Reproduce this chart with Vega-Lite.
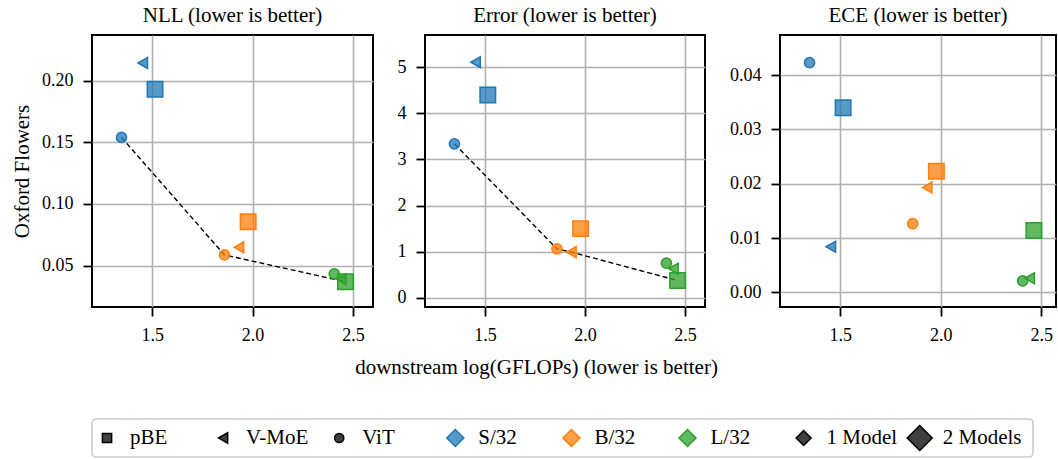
{
  "$schema": "https://vega.github.io/schema/vega-lite/v6.json",
  "background": "white",
  "padding": {"left": 10, "top": 4, "right": 0, "bottom": 0},
  "config": {
    "font": "Liberation Serif",
    "view": {"stroke": "black", "strokeWidth": 2},
    "axis": {
      "labelFont": "Liberation Serif", "labelFontSize": 18, "labelColor": "black",
      "titleFont": "Liberation Serif", "titleFontSize": 21, "titleFontWeight": "normal", "titleColor": "black",
      "tickColor": "black", "tickSize": 9, "tickWidth": 1.8, "labelPadding": 10,
      "domain": false, "gridColor": "#b0b0b0", "gridWidth": 1.6, "gridOpacity": 1
    },
    "axisY": {"titlePadding": 9},
    "title": {"font": "Liberation Serif", "fontSize": 21, "fontWeight": "normal", "color": "black", "offset": 9}
  },
  "resolve": {"scale": {"shape": "independent", "fill": "independent", "stroke": "independent"}},
  "datasets": {
    "points": [
      {"metric": "NLL", "method": "ViT", "model": "S/32", "gflops": 1.347, "value": 0.154, "front": true},
      {"metric": "NLL", "method": "ViT", "model": "B/32", "gflops": 1.860, "value": 0.0587, "front": true},
      {"metric": "NLL", "method": "ViT", "model": "L/32", "gflops": 2.407, "value": 0.0433, "front": false},
      {"metric": "NLL", "method": "V-MoE", "model": "S/32", "gflops": 1.453, "value": 0.2143, "front": false},
      {"metric": "NLL", "method": "V-MoE", "model": "B/32", "gflops": 1.932, "value": 0.0649, "front": false},
      {"metric": "NLL", "method": "V-MoE", "model": "L/32", "gflops": 2.442, "value": 0.039, "front": false},
      {"metric": "NLL", "method": "pBE", "model": "S/32", "gflops": 1.514, "value": 0.193, "front": false},
      {"metric": "NLL", "method": "pBE", "model": "B/32", "gflops": 1.978, "value": 0.0857, "front": false},
      {"metric": "NLL", "method": "pBE", "model": "L/32", "gflops": 2.463, "value": 0.037, "front": true},
      {"metric": "Error", "method": "ViT", "model": "S/32", "gflops": 1.347, "value": 3.34, "front": true},
      {"metric": "Error", "method": "ViT", "model": "B/32", "gflops": 1.860, "value": 1.06, "front": true},
      {"metric": "Error", "method": "ViT", "model": "L/32", "gflops": 2.407, "value": 0.75, "front": false},
      {"metric": "Error", "method": "V-MoE", "model": "S/32", "gflops": 1.453, "value": 5.11, "front": false},
      {"metric": "Error", "method": "V-MoE", "model": "B/32", "gflops": 1.932, "value": 0.99, "front": true},
      {"metric": "Error", "method": "V-MoE", "model": "L/32", "gflops": 2.442, "value": 0.63, "front": false},
      {"metric": "Error", "method": "pBE", "model": "S/32", "gflops": 1.514, "value": 4.40, "front": false},
      {"metric": "Error", "method": "pBE", "model": "B/32", "gflops": 1.978, "value": 1.50, "front": false},
      {"metric": "Error", "method": "pBE", "model": "L/32", "gflops": 2.463, "value": 0.375, "front": true},
      {"metric": "ECE", "method": "ViT", "model": "S/32", "gflops": 1.347, "value": 0.0423, "front": false},
      {"metric": "ECE", "method": "ViT", "model": "B/32", "gflops": 1.860, "value": 0.01265, "front": false},
      {"metric": "ECE", "method": "ViT", "model": "L/32", "gflops": 2.407, "value": 0.0021, "front": false},
      {"metric": "ECE", "method": "V-MoE", "model": "S/32", "gflops": 1.453, "value": 0.0084, "front": false},
      {"metric": "ECE", "method": "V-MoE", "model": "B/32", "gflops": 1.932, "value": 0.0193, "front": false},
      {"metric": "ECE", "method": "V-MoE", "model": "L/32", "gflops": 2.442, "value": 0.0026, "front": false},
      {"metric": "ECE", "method": "pBE", "model": "S/32", "gflops": 1.514, "value": 0.0340, "front": false},
      {"metric": "ECE", "method": "pBE", "model": "B/32", "gflops": 1.978, "value": 0.0223, "front": false},
      {"metric": "ECE", "method": "pBE", "model": "L/32", "gflops": 2.463, "value": 0.0114, "front": false}
    ],
    "legend": [
      {"item": "pBE"}, {"item": "V-MoE"}, {"item": "ViT"}, {"item": "S/32"},
      {"item": "B/32"}, {"item": "L/32"}, {"item": "1 Model"}, {"item": "2 Models"}
    ]
  },
  "vconcat": [
    {
      "spacing": 22,
      "resolve": {"scale": {"shape": "shared", "fill": "shared", "stroke": "shared"}},
      "hconcat": [
        {
          "width": 281, "height": 272,
          "title": "NLL (lower is better)",
          "data": {"name": "points"},
          "transform": [{"filter": "datum.metric === 'NLL'"}],
          "encoding": {
            "x": {"field": "gflops", "type": "quantitative", "scale": {"domain": [1.2, 2.6], "nice": false, "zero": false}, "axis": {"values": [1.5, 2.0, 2.5], "format": ".1f", "title": null}},
            "y": {"field": "value", "type": "quantitative", "scale": {"domain": [0.0165, 0.237], "nice": false, "zero": false}, "axis": {"values": [0.05, 0.1, 0.15, 0.2], "format": ".2f", "title": "Oxford Flowers"}}
          },
          "layer": [
            {"transform": [{"filter": "datum.front"}], "mark": {"type": "line", "color": "black", "strokeDash": [5, 3], "strokeWidth": 1.4}, "encoding": {"order": {"field": "gflops"}}},
            {"mark": {"type": "point", "filled": true, "fillOpacity": 0.75, "strokeWidth": 1.5, "opacity": 1},
             "encoding": {
               "shape": {"field": "method", "scale": {"domain": ["pBE", "V-MoE", "ViT"], "range": ["square", "triangle-left", "circle"]}, "legend": null},
               "size": {"condition": [{"test": "datum.method === 'pBE'", "value": 240}, {"test": "datum.method === 'V-MoE'", "value": 120}], "value": 104},
               "fill": {"field": "model", "scale": {"domain": ["S/32", "B/32", "L/32"], "range": ["#1f77b4", "#ff7f0e", "#2ca02c"]}, "legend": null},
               "stroke": {"field": "model", "scale": {"domain": ["S/32", "B/32", "L/32"], "range": ["#1f77b4", "#ff7f0e", "#2ca02c"]}, "legend": null}
             }}
          ]
        },
        {
          "width": 280, "height": 272,
          "title": "Error (lower is better)",
          "data": {"name": "points"},
          "transform": [{"filter": "datum.metric === 'Error'"}],
          "encoding": {
            "x": {"field": "gflops", "type": "quantitative", "scale": {"domain": [1.2, 2.6], "nice": false, "zero": false}, "axis": {"values": [1.5, 2.0, 2.5], "format": ".1f", "title": null}},
            "y": {"field": "value", "type": "quantitative", "scale": {"domain": [-0.2, 5.7], "nice": false, "zero": false}, "axis": {"values": [0, 1, 2, 3, 4, 5], "format": "d", "title": null}}
          },
          "layer": [
            {"transform": [{"filter": "datum.front"}], "mark": {"type": "line", "color": "black", "strokeDash": [5, 3], "strokeWidth": 1.4}, "encoding": {"order": {"field": "gflops"}}},
            {"mark": {"type": "point", "filled": true, "fillOpacity": 0.75, "strokeWidth": 1.5, "opacity": 1},
             "encoding": {
               "shape": {"field": "method", "scale": {"domain": ["pBE", "V-MoE", "ViT"], "range": ["square", "triangle-left", "circle"]}, "legend": null},
               "size": {"condition": [{"test": "datum.method === 'pBE'", "value": 240}, {"test": "datum.method === 'V-MoE'", "value": 120}], "value": 104},
               "fill": {"field": "model", "scale": {"domain": ["S/32", "B/32", "L/32"], "range": ["#1f77b4", "#ff7f0e", "#2ca02c"]}, "legend": null},
               "stroke": {"field": "model", "scale": {"domain": ["S/32", "B/32", "L/32"], "range": ["#1f77b4", "#ff7f0e", "#2ca02c"]}, "legend": null}
             }}
          ]
        },
        {
          "width": 276, "height": 272,
          "title": "ECE (lower is better)",
          "data": {"name": "points"},
          "transform": [{"filter": "datum.metric === 'ECE'"}],
          "encoding": {
            "x": {"field": "gflops", "type": "quantitative", "scale": {"domain": [1.2, 2.573], "nice": false, "zero": false}, "axis": {"values": [1.5, 2.0, 2.5], "format": ".1f", "title": null}},
            "y": {"field": "value", "type": "quantitative", "scale": {"domain": [-0.0027, 0.0474], "nice": false, "zero": false}, "axis": {"values": [0, 0.01, 0.02, 0.03, 0.04], "format": ".2f", "title": null}}
          },
          "layer": [
            {"mark": {"type": "point", "filled": true, "fillOpacity": 0.75, "strokeWidth": 1.5, "opacity": 1},
             "encoding": {
               "shape": {"field": "method", "scale": {"domain": ["pBE", "V-MoE", "ViT"], "range": ["square", "triangle-left", "circle"]}, "legend": null},
               "size": {"condition": [{"test": "datum.method === 'pBE'", "value": 240}, {"test": "datum.method === 'V-MoE'", "value": 120}], "value": 104},
               "fill": {"field": "model", "scale": {"domain": ["S/32", "B/32", "L/32"], "range": ["#1f77b4", "#ff7f0e", "#2ca02c"]}, "legend": null},
               "stroke": {"field": "model", "scale": {"domain": ["S/32", "B/32", "L/32"], "range": ["#1f77b4", "#ff7f0e", "#2ca02c"]}, "legend": null}
             }}
          ]
        }
      ]
    },
    {
      "width": 941, "height": 38,
      "title": {"text": "downstream log(GFLOPs) (lower is better)", "baseline": "alphabetic", "offset": 24, "dx": -26},
      "view": {"stroke": "#cccccc", "strokeWidth": 1.6, "cornerRadius": 4, "fill": "white"},
      "data": {"name": "legend"},
      "encoding": {
        "x": {"field": "item", "type": "nominal", "sort": null, "scale": {"type": "point", "padding": 0.5525, "align": 0.117}, "axis": null}
      },
      "layer": [
        {"mark": {"type": "point", "filled": true, "fillOpacity": 0.75, "strokeWidth": 1.5, "opacity": 1},
         "encoding": {
           "shape": {"field": "item", "scale": {"domain": ["pBE", "V-MoE", "ViT", "S/32", "B/32", "L/32", "1 Model", "2 Models"], "range": ["square", "triangle-left", "circle", "diamond", "diamond", "diamond", "diamond", "diamond"]}, "legend": null},
           "size": {"condition": [
             {"test": "datum.item === '2 Models'", "value": 625},
             {"test": "datum.item === '1 Model'", "value": 225},
             {"test": "indexof(['S/32', 'B/32', 'L/32'], datum.item) >= 0", "value": 290},
             {"test": "datum.item === 'V-MoE'", "value": 110}
           ], "value": 85},
           "fill": {"field": "item", "scale": {"domain": ["pBE", "V-MoE", "ViT", "S/32", "B/32", "L/32", "1 Model", "2 Models"], "range": ["black", "black", "black", "#1f77b4", "#ff7f0e", "#2ca02c", "black", "black"]}, "legend": null},
           "stroke": {"field": "item", "scale": {"domain": ["pBE", "V-MoE", "ViT", "S/32", "B/32", "L/32", "1 Model", "2 Models"], "range": ["black", "black", "black", "#1f77b4", "#ff7f0e", "#2ca02c", "black", "black"]}, "legend": null}
         }},
        {"mark": {"type": "text", "align": "left", "baseline": "middle", "dx": 23, "font": "Liberation Serif", "fontSize": 21, "color": "black"},
         "encoding": {"text": {"field": "item"}}}
      ]
    }
  ],
  "spacing": 11,
  "center": false
}
